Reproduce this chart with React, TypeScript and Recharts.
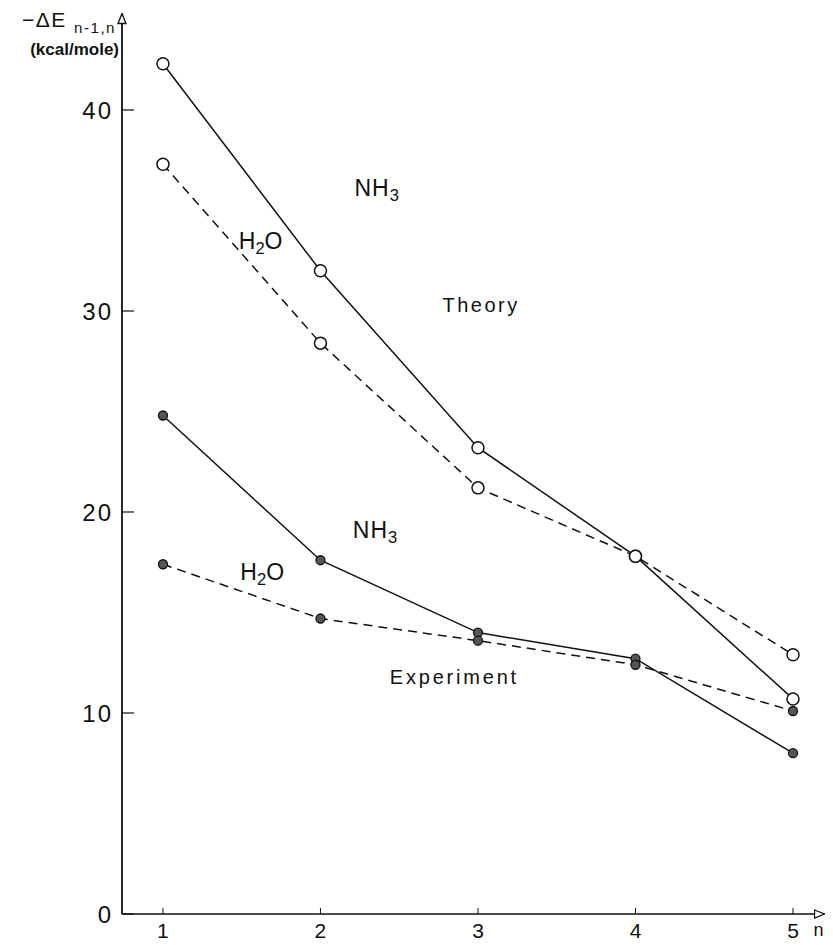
import { LineChart, Line, XAxis, YAxis, ReferenceDot } from "recharts"

const nValues = [1, 2, 3, 4, 5]
const theoryNH3 = [42.3, 32.0, 23.2, 17.8, 10.7]
const theoryH2O = [37.3, 28.4, 21.2, 17.8, 12.9]
const exptNH3 = [24.8, 17.6, 14.0, 12.7, 8.0]
const exptH2O = [17.4, 14.7, 13.6, 12.4, 10.1]
const yTicks = [0, 10, 20, 30, 40]
const xTicks = [1, 2, 3, 4, 5]

type Part = { t: string; sub?: boolean }

// text notes placed in data coordinates
const notes: { x: number; y: number; parts: Part[]; size: number; spacing?: number }[] = [
    { x: 2.36, y: 36.1, parts: [{ t: "NH" }, { t: "3", sub: true }], size: 23, spacing: 1 },
    { x: 1.62, y: 33.5, parts: [{ t: "H" }, { t: "2", sub: true }, { t: "O" }], size: 23 },
    { x: 3.02, y: 30.3, parts: [{ t: "Theory" }], size: 20, spacing: 2.5 },
    { x: 2.35, y: 19.1, parts: [{ t: "NH" }, { t: "3", sub: true }], size: 23, spacing: 1 },
    { x: 1.63, y: 17.0, parts: [{ t: "H" }, { t: "2", sub: true }, { t: "O" }], size: 23 },
    { x: 2.85, y: 11.8, parts: [{ t: "Experiment" }], size: 20, spacing: 2.8 },
]

const data = nValues.map((n, i) => ({
    n,
    thNH3: theoryNH3[i],
    thH2O: theoryH2O[i],
    exNH3: exptNH3[i],
    exH2O: exptH2O[i],
}))

const FONT = "'Liberation Sans', Arial, sans-serif"

function Parts({ parts, size }: { parts: Part[]; size: number }) {
    const shift = size * 0.3
    return (
        <>
            {parts.map((p, i) => {
                const prevSub = i > 0 && parts[i - 1].sub
                const dy = p.sub ? shift : prevSub ? -shift : 0
                return (
                    <tspan key={i} dy={dy} fontSize={p.sub ? size * 0.72 : size}>
                        {p.t}
                    </tspan>
                )
            })}
        </>
    )
}

function Note(props: any) {
    const { viewBox, parts, size, spacing } = props
    const x = viewBox.x + viewBox.width / 2
    const y = viewBox.y + viewBox.height / 2
    return (
        <text x={x} y={y} textAnchor="middle" dominantBaseline="central"
            fontFamily={FONT} fill="#111" letterSpacing={spacing ?? 0}>
            <Parts parts={parts} size={size} />
        </text>
    )
}

function YTitle(props: any) {
    const { viewBox } = props
    const ax = viewBox.x + viewBox.width
    const top = viewBox.y
    return (
        <g fontFamily={FONT} fill="#111">
            <text x={ax - 6} y={top + 13} textAnchor="end" fontSize={21} letterSpacing={1.5}>
                <Parts parts={[{ t: "−ΔE " }, { t: "n-1,n", sub: true }]} size={21} />
            </text>
            <text x={ax - 3} y={top + 41} textAnchor="end" fontSize={17} fontWeight="bold">
                (kcal/mole)
            </text>
        </g>
    )
}

function XTitle(props: any) {
    const { viewBox } = props
    return (
        <text x={viewBox.x + viewBox.width - 6} y={viewBox.y + 22} textAnchor="middle"
            fontFamily={FONT} fontSize={18} fill="#111">
            n
        </text>
    )
}

const lineBase = { stroke: "#111", strokeWidth: 1.5, isAnimationActive: false, type: "linear" as const }
const openDot = { r: 6, fill: "#fff", stroke: "#111", strokeWidth: 1.5, strokeDasharray: "none" }
const fullDot = { r: 4.5, fill: "#555", stroke: "#111", strokeWidth: 1.3, strokeDasharray: "none" }

export default function App() {
    return (
        <div style={{ width: 825, height: 937, background: "#fff" }}>
            <LineChart width={825} height={937} data={data}
                margin={{ top: 5.5, right: 8.5, bottom: 1, left: 54 }}>
                <defs>
                    <marker id="arrowHead" viewBox="0 0 12 10" refX="11" refY="5"
                        markerWidth="12" markerHeight="10" markerUnits="userSpaceOnUse"
                        orient="auto-start-reverse">
                        <path d="M1,1 L11,5 L1,9 Z" fill="#fff" stroke="#111" strokeWidth={1.3} />
                    </marker>
                </defs>
                <XAxis dataKey="n" type="number" domain={[0.74, 5.2]} ticks={xTicks}
                    allowDataOverflow height={30}
                    axisLine={{ stroke: "#111", strokeWidth: 1.5, markerEnd: "url(#arrowHead)" }}
                    tickLine={{ stroke: "#111", strokeWidth: 1 }}
                    tickSize={-6} tickMargin={15}
                    tick={{ fill: "#111", fontSize: 21, fontFamily: FONT }}
                    label={<XTitle />} />
                <YAxis type="number" domain={[0, 44.8]} ticks={yTicks} allowDataOverflow width={60}
                    axisLine={{ stroke: "#111", strokeWidth: 1.8, markerStart: "url(#arrowHead)" }}
                    tickLine={{ stroke: "#111", strokeWidth: 1.2 }}
                    tickSize={-12} tickMargin={21}
                    tick={{ fill: "#111", fontSize: 24, fontFamily: FONT, letterSpacing: 2 }}
                    label={<YTitle />} />
                <Line dataKey="thNH3" {...lineBase} dot={openDot} activeDot={false} />
                <Line dataKey="thH2O" {...lineBase} strokeDasharray="9 6" dot={openDot} activeDot={false} />
                <Line dataKey="exNH3" {...lineBase} dot={fullDot} activeDot={false} />
                <Line dataKey="exH2O" {...lineBase} strokeDasharray="9 6" dot={fullDot} activeDot={false} />
                {notes.map((nt, i) => (
                    <ReferenceDot key={i} x={nt.x} y={nt.y} r={0} fill="none" stroke="none"
                        label={<Note parts={nt.parts} size={nt.size} spacing={nt.spacing} />} />
                ))}
            </LineChart>
        </div>
    )
}
